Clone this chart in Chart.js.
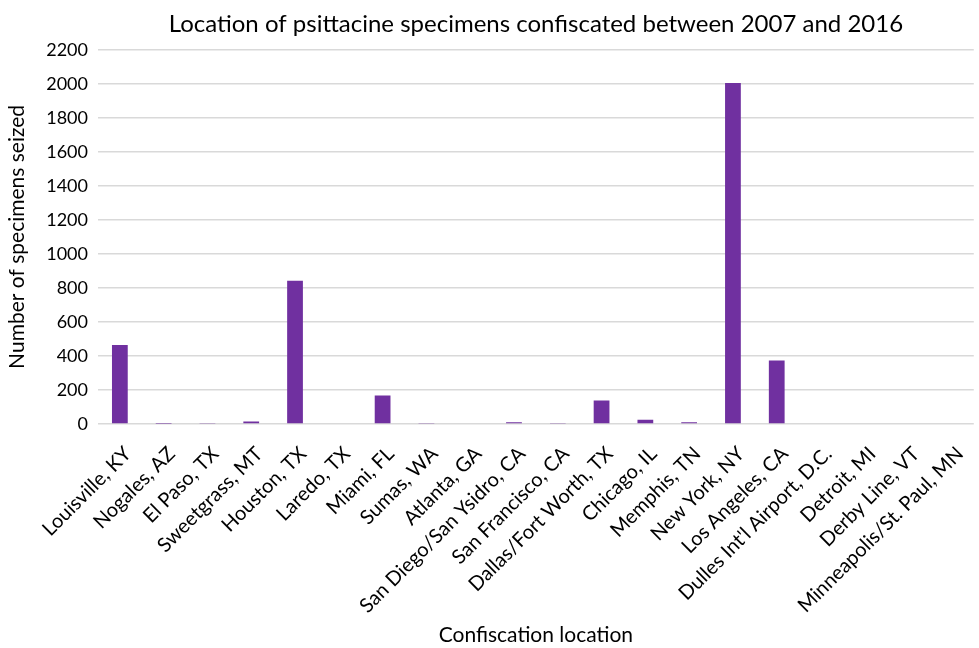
<!DOCTYPE html>
<html lang="en">
<head>
    <meta charset="UTF-8">
    <title>Psittacine confiscations</title>
    <script src="https://cdn.jsdelivr.net/npm/chart.js"></script>
    <style>
        body { margin: 0; background: #fff; }
        #wrap { width: 979px; height: 648px; }
    </style>
</head>
<body>
    <div id="wrap"><canvas id="grafico" width="979" height="648"></canvas></div>
    <script>
        const locais = ['Louisville, KY', 'Nogales, AZ', 'El Paso, TX', 'Sweetgrass, MT', 'Houston, TX',
            'Laredo, TX', 'Miami, FL', 'Sumas, WA', 'Atlanta, GA', 'San Diego/San Ysidro, CA',
            'San Francisco, CA', 'Dallas/Fort Worth, TX', 'Chicago, IL', 'Memphis, TN', 'New York, NY',
            'Los Angeles, CA', "Dulles Int'l Airport, D.C.", 'Detroit, MI', 'Derby Line, VT', 'Minneapolis/St. Paul, MN'];
        const apreendidos = [464, 1, 6, 14, 842, 5, 168, 3, 5, 10, 6, 138, 25, 10, 2005, 373, 0, 0, 0, 0];
        const ticksY = [0, 200, 400, 600, 800, 1000, 1200, 1400, 1600, 1800, 2000, 2200];

        const fonte = 'Lato, "Open Sans", sans-serif';

        new Chart(document.getElementById('grafico'), {
            type: 'bar',
            data: {
                labels: locais,
                datasets: [{
                    data: apreendidos,
                    backgroundColor: '#7030A0',
                    borderWidth: 0,
                    barPercentage: 0.72,
                    categoryPercentage: 0.5
                }]
            },
            options: {
                responsive: false,
                animation: false,
                layout: { padding: { left: 1, right: 0, top: 4, bottom: 0 } },
                plugins: {
                    legend: { display: false },
                    tooltip: { enabled: false },
                    title: {
                        display: true,
                        fullSize: false,
                        text: 'Location of psittacine specimens confiscated between 2007 and 2016',
                        color: '#000',
                        font: { family: fonte, size: 24, weight: 'normal' },
                        padding: { top: 6, bottom: 11 }
                    }
                },
                scales: {
                    x: {
                        grid: { display: false },
                        border: { display: false },
                        afterFit: (eixo) => { eixo.height = 224; },
                        ticks: {
                            color: '#000',
                            font: { family: fonte, size: 20 },
                            minRotation: 45,
                            maxRotation: 45,
                            autoSkip: false,
                            padding: 10,
                            labelOffset: 8
                        },
                        title: {
                            display: true,
                            text: 'Confiscation location',
                            color: '#000',
                            font: { family: fonte, size: 21 },
                            padding: { top: 8, bottom: 0 }
                        }
                    },
                    y: {
                        min: 0,
                        max: 2200,
                        afterBuildTicks: (eixo) => { eixo.ticks = ticksY.map(v => ({ value: v })); },
                        grid: { color: '#d9d9d9', lineWidth: 1.5, drawTicks: false },
                        border: { display: false },
                        ticks: {
                            color: '#000',
                            font: { family: fonte, size: 18 },
                            padding: 10,
                            callback: (v) => String(v)
                        },
                        title: {
                            display: true,
                            text: 'Number of specimens seized',
                            color: '#000',
                            font: { family: fonte, size: 21 },
                            padding: { bottom: 6 }
                        }
                    }
                }
            }
        });
    </script>
</body>
</html>
